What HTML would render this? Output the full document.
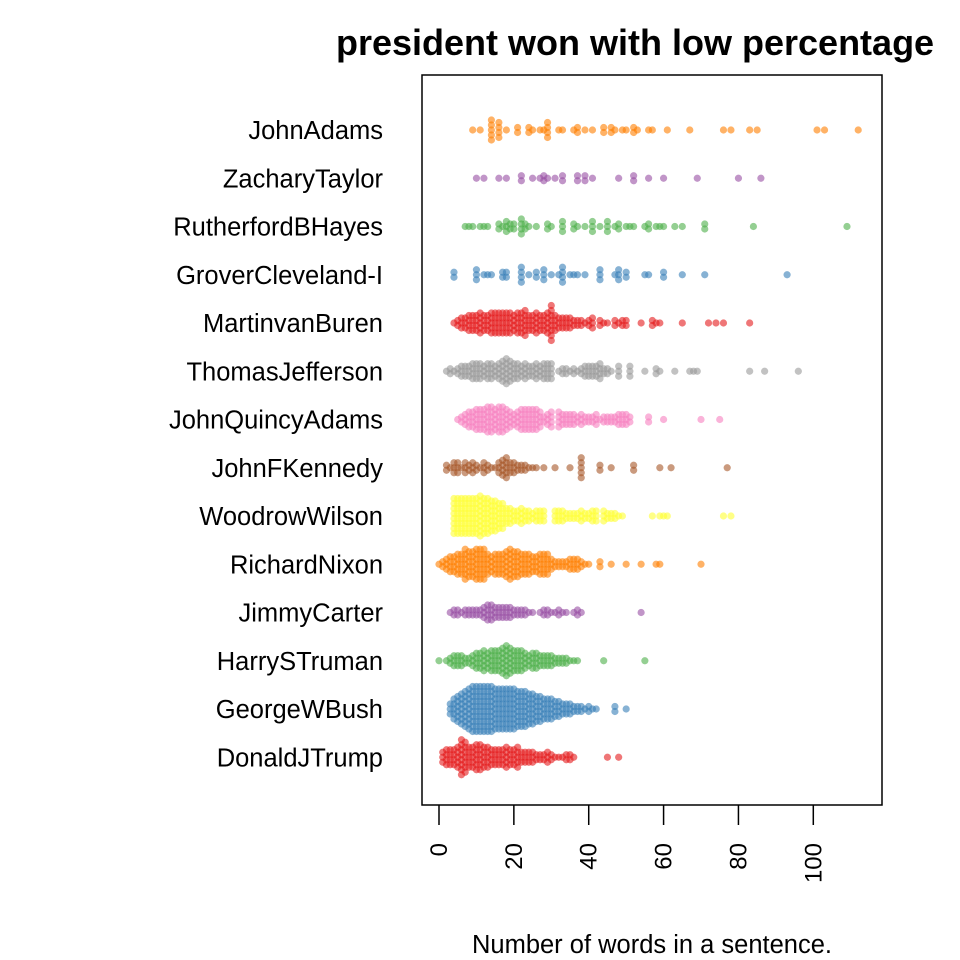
<!DOCTYPE html>
<html><head><meta charset="utf-8"><style>
html,body{margin:0;padding:0;background:#fff;overflow:hidden;}
svg{display:block;font-family:"Liberation Sans",Arial,sans-serif;}
</style></head><body>
<svg id="chart" width="960" height="960" viewBox="0 0 960 960">
<text x="336" y="55" font-size="36" font-weight="bold">president won with low percentage</text>
<rect x="422" y="75" width="460" height="730" fill="none" stroke="#000" stroke-width="1.5"/>
<g id="ylabels"></g><g id="xaxis"></g><g id="dots"></g>
<text x="652" y="953" font-size="25.5" text-anchor="middle">Number of words in a sentence.</text>
</svg>
<script>
const presidents=["JohnAdams","ZacharyTaylor","RutherfordBHayes","GroverCleveland-I","MartinvanBuren","ThomasJefferson","JohnQuincyAdams","JohnFKennedy","WoodrowWilson","RichardNixon","JimmyCarter","HarrySTruman","GeorgeWBush","DonaldJTrump"];
const colors=["#FF7F00","#984EA3","#4DAF4A","#377EB8","#E41A1C","#999999","#F781BF","#A65628","#FFFF33","#FF7F00","#984EA3","#4DAF4A","#377EB8","#E41A1C"];
const xTicks=[0,20,40,60,80,100];
const adamsWords=[9,11,14,14,14,14,14,16,16,16,16,18,21,21,24,24,25,27,28,29,29,29,29,32,33,36,37,37,39,41,44,44,46,46,47,49,50,52,52,53,56,57,61,67,76,78,83,85,101,103,112];
const taylorWords=[10,12,16,18,22,22,25,27,28,28,29,31,33,33,37,37,39,39,41,48,52,52,56,60,69,80,86];
const hayesWords=[7,8,9,11,12,13,16,16,17,18,18,18,19,19,20,20,22,22,22,22,23,23,24,26,29,29,30,33,33,33,36,36,37,39,41,41,41,43,45,45,45,47,48,48,50,51,52,55,56,56,58,59,60,63,65,71,71,84,109];
const groverWords=[4,4,10,10,10,12,13,14,17,17,18,18,22,22,22,22,24,26,26,28,28,28,30,32,33,33,33,33,35,36,37,39,43,43,43,47,48,48,48,50,50,55,56,60,60,65,71,93];
const vanburenCounts=[0,0,0,0,1,2,3,3,4,4,4,5,4,4,5,5,5,5,5,5,4,5,5,6,4,4,5,4,4,5,8,4,3,3,3,3,2,2,2,1,2,3,0,2,1,1,0,2,1,2,2,0,0,0,1,0,0,2,1,1,0,0,0,0,0,1,0,0,0,0,0,0,1,0,1,0,1,0,0,0,0,0,0,1];
const jeffersonCounts=[0,0,1,2,1,2,3,3,3,4,4,4,3,4,4,3,4,5,6,5,4,4,3,4,3,3,4,3,4,4,4,0,1,2,2,1,2,1,2,3,3,3,3,4,2,2,1,0,3,0,0,3,0,0,0,1,0,0,2,1,0,0,0,1,0,0,0,1,1,1,0,0,0,0,0,0,0,0,0,0,0,0,0,1,0,0,0,1,0,0,0,0,0,0,0,0,1];
const jqadamsCounts=[0,0,0,0,0,1,2,3,4,4,5,5,5,6,6,5,6,6,5,4,3,4,5,5,5,5,5,4,2,3,4,0,4,3,3,3,3,2,3,2,2,2,3,1,2,2,2,2,3,3,3,2,0,0,0,0,2,0,0,0,1,0,0,0,0,0,0,0,0,0,1,0,0,0,0,1];
const kennedyCounts=[0,0,2,1,3,3,1,3,2,3,2,1,3,2,1,1,3,4,5,3,3,2,2,2,1,1,1,0,1,0,0,1,0,0,0,1,0,0,5,0,0,0,0,2,0,0,1,0,0,0,0,0,2,0,0,0,0,0,0,1,0,0,1,0,0,0,0,0,0,0,0,0,0,0,0,0,0,1];
const wilsonCounts=[0,0,0,0,8,8,8,8,8,8,8,9,8,8,7,7,6,6,4,4,3,3,4,3,3,2,3,3,3,0,0,3,3,3,2,2,2,2,3,2,2,3,3,0,3,2,2,2,1,1,0,0,0,0,0,0,0,1,0,1,1,1,0,0,0,0,0,0,0,0,0,0,0,0,0,0,1,0,1];
const nixonCounts=[1,2,3,4,4,5,5,7,6,6,7,7,7,5,4,5,5,5,6,7,6,6,5,5,5,4,4,5,5,5,3,2,2,2,2,3,3,3,2,1,1,0,0,2,0,0,1,0,0,0,1,0,0,0,1,0,0,0,1,1,0,0,0,0,0,0,0,0,0,0,1];
const carterCounts=[0,0,0,1,2,2,1,2,2,2,2,2,3,4,4,3,3,3,3,3,2,2,2,2,1,1,0,1,2,2,1,1,2,1,1,0,1,2,1,0,0,0,0,0,0,0,0,0,0,0,0,0,0,0,1];
const trumanCounts=[1,0,1,2,3,3,3,2,2,3,4,4,5,4,5,5,5,6,7,6,5,5,5,4,3,4,4,3,3,3,3,2,2,2,2,1,1,1,0,0,0,0,0,0,1,0,0,0,0,0,0,0,0,0,0,1];
const bushCounts=[0,0,0,3,5,6,7,8,9,10,10,10,10,10,10,9,9,9,9,9,9,8,8,8,7,7,6,6,5,5,5,4,4,3,3,3,2,2,2,1,2,1,1,0,0,0,0,2,0,0,1];
const trumpCounts=[0,3,4,4,4,5,8,7,5,5,6,6,5,5,4,4,4,4,5,4,4,5,3,3,3,3,2,2,2,3,2,1,1,1,2,2,1,0,0,0,0,0,0,0,0,1,0,0,1];

function toCounts(v){const c=[];v.forEach(x=>{c[x]=(c[x]||0)+1;});for(let i=0;i<c.length;i++)c[i]=c[i]||0;return c;}
const seriesCounts=[toCounts(adamsWords),toCounts(taylorWords),toCounts(hayesWords),toCounts(groverWords),vanburenCounts,jeffersonCounts,jqadamsCounts,kennedyCounts,wilsonCounts,nixonCounts,carterCounts,trumanCounts,bushCounts,trumpCounts];

const NS="http://www.w3.org/2000/svg";
const xScale=v=>439+v*3.743;
const rowY=i=>130+i*48.25;
const STEP=5,R=3.6;
const yl=document.getElementById('ylabels');
presidents.forEach((p,i)=>{
  const t=document.createElementNS(NS,'text');
  t.setAttribute('x',383);t.setAttribute('y',rowY(i)+9);
  t.setAttribute('font-size','25.5');t.setAttribute('text-anchor','end');
  t.textContent=p;
  
  
  yl.appendChild(t);
});
const xa=document.getElementById('xaxis');
xTicks.forEach(v=>{
  const l=document.createElementNS(NS,'line');
  l.setAttribute('x1',xScale(v));l.setAttribute('x2',xScale(v));
  l.setAttribute('y1',805);l.setAttribute('y2',825);
  l.setAttribute('stroke','#000');l.setAttribute('stroke-width','1.5');
  
  
  xa.appendChild(l);
  const t=document.createElementNS(NS,'text');
  const x=xScale(v)+8,y=843;
  t.setAttribute('x',x);t.setAttribute('y',y);
  t.setAttribute('transform','rotate(-90 '+x+' '+y+')');
  t.setAttribute('font-size','24');t.setAttribute('text-anchor','end');
  t.textContent=v;
  
  
  xa.appendChild(t);
});
const dg=document.getElementById('dots');
seriesCounts.forEach((counts,i)=>{
  const g=document.createElementNS(NS,'g');
  
  
  counts.forEach((n,v)=>{
    for(let k=0;k<n;k++){
      const c=document.createElementNS(NS,'circle');
      c.setAttribute('cx',xScale(v));
      c.setAttribute('cy',rowY(i)+(k-(n-1)/2)*STEP);
      c.setAttribute('r',R);
      c.setAttribute('fill',colors[i]);c.setAttribute('fill-opacity','0.6');
      
      
      g.appendChild(c);
    }
  });
  dg.appendChild(g);
});
</script>
</body></html>
